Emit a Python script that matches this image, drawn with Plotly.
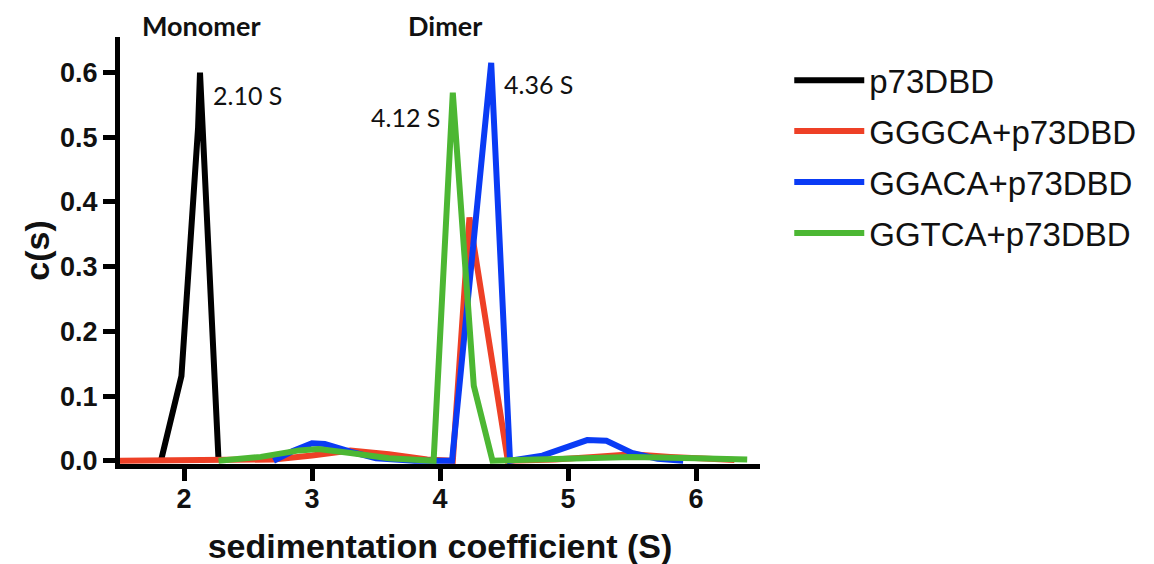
import plotly.graph_objects as go

# ---- data ----
p73_x = [1.82, 1.98, 2.11, 2.125, 2.27]
p73_y = [0.0, 0.131, 0.515, 0.600, 0.0]

gggca_x = [1.5, 2.3, 2.7, 3.0, 3.3, 3.6, 3.9, 4.1, 4.23, 4.53, 4.9, 5.2, 5.5, 5.8, 6.1, 6.3]
gggca_y = [0.0, 0.0, 0.002, 0.008, 0.016, 0.010, 0.002, 0.0, 0.376, 0.0, 0.002, 0.006, 0.010, 0.006, 0.003, 0.001]

ggaca_x = [2.7, 2.85, 3.0, 3.1, 3.3, 3.5, 3.8, 4.094, 4.40, 4.547, 4.8, 5.0, 5.15, 5.3, 5.5, 5.7, 5.9]
ggaca_y = [0.0, 0.015, 0.027, 0.026, 0.014, 0.004, 0.0, 0.0, 0.615, 0.0, 0.008, 0.022, 0.032, 0.031, 0.012, 0.003, 0.0]

ggtca_x = [2.27, 2.6, 2.9, 3.05, 3.3, 3.6, 3.95, 4.10, 4.264, 4.41, 4.6, 5.0, 5.5, 6.0, 6.4]
ggtca_y = [0.0, 0.006, 0.016, 0.018, 0.012, 0.004, 0.0, 0.569, 0.116, 0.0, 0.001, 0.004, 0.006, 0.004, 0.002]

series = [
    ("p73DBD", p73_x, p73_y, "#000000"),
    ("GGGCA+p73DBD", gggca_x, gggca_y, "#EE4026"),
    ("GGACA+p73DBD", ggaca_x, ggaca_y, "#0A3BF5"),
    ("GGTCA+p73DBD", ggtca_x, ggtca_y, "#4CB733"),
]

x_ticks = [2, 3, 4, 5, 6]
y_ticks = [0.0, 0.1, 0.2, 0.3, 0.4, 0.5, 0.6]

peak_labels = [
    ("2.10 S", 2.21, 0.565, "left"),
    ("4.12 S", 4.016, 0.531, "right"),
    ("4.36 S", 4.486, 0.582, "left"),
]
group_labels = [("Monomer", 2.13), ("Dimer", 4.04)]

fig = go.Figure()
for i, (name, xs, ys, col) in enumerate(series):
    fig.add_trace(go.Scatter(
        x=xs, y=ys, mode="lines", name=name,
        line=dict(color=col, width=6),
        cliponaxis=False, legendgroup=f"g{i}",
    ))

for txt, x, y, anc in peak_labels:
    fig.add_annotation(x=x, y=y, text=txt, showarrow=False, xanchor=anc, yanchor="middle",
                       font=dict(family="Lato, Open Sans", size=25, color="#111"))
for txt, x in group_labels:
    fig.add_annotation(x=x, xref="x", y=1.028, yref="paper", text=f"<b>{txt}</b>",
                       showarrow=False, xanchor="center", yanchor="middle",
                       font=dict(family="Lato, Open Sans", size=27, color="#111"))

axis_font = dict(family="Liberation Sans, Arial", size=27, color="#111")
title_font = dict(family="Liberation Sans, Arial", size=34, color="#111")
# the page body adds an 8px offset, so margins are shifted by 8px
fig.update_layout(
    width=1154, height=564,
    margin=dict(l=112, r=402, t=29, b=108, autoexpand=False),
    paper_bgcolor="white", plot_bgcolor="white",
    showlegend=True,
    legend=dict(xref="container", yref="container", x=0.677, y=0.9215,
                xanchor="left", yanchor="top",
                font=dict(family="Liberation Sans, Arial", size=33, color="#111"),
                tracegroupgap=5, bgcolor="rgba(0,0,0,0)", itemwidth=70),
    xaxis=dict(range=[1.5, 6.5], tickvals=x_ticks, ticktext=[f"<b>{v}</b>" for v in x_ticks],
               showline=True, linecolor="black", linewidth=5, ticks="outside", ticklen=12,
               tickwidth=5, tickcolor="black", showgrid=False, zeroline=False,
               tickfont=axis_font, automargin=False, ticklabelstandoff=-5,
               title=dict(text="<b>sedimentation coefficient (S)</b>", standoff=22,
                          font=title_font)),
    yaxis=dict(range=[-0.005, 0.655], tickvals=y_ticks,
               ticktext=[f"<b>{v:.1f}</b>" for v in y_ticks],
               showline=True, linecolor="black", linewidth=5, ticks="outside", ticklen=12,
               tickwidth=5, tickcolor="black", showgrid=False, zeroline=False,
               tickfont=axis_font, automargin=False,
               title=dict(text="<b>c(s)</b>", standoff=2, font=title_font)),
)

fig.write_html("out.html")
